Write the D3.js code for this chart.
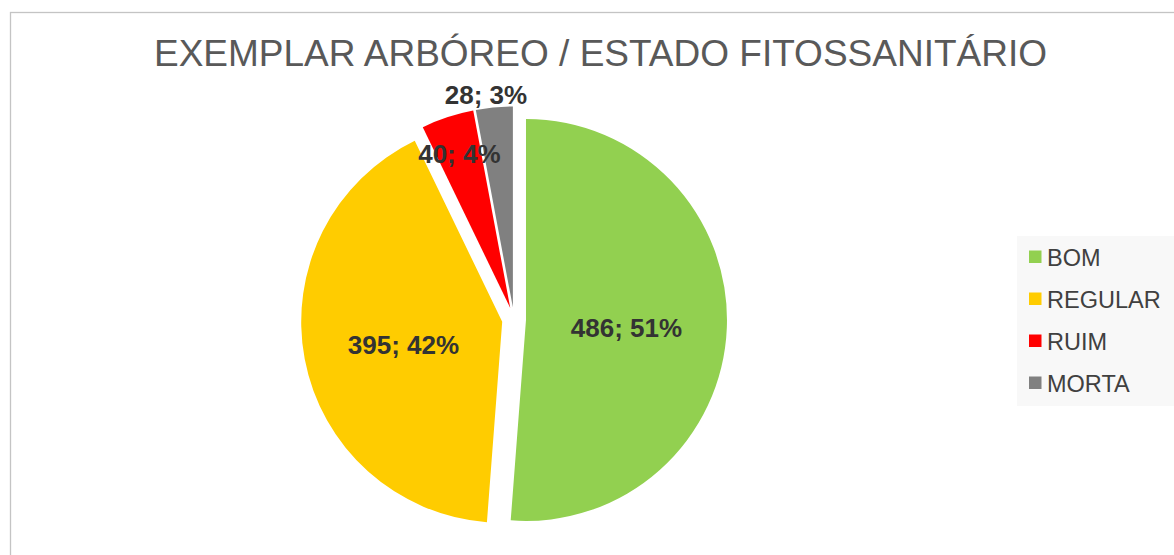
<!DOCTYPE html>
<html>
<head>
<meta charset="utf-8">
<script src="https://cdn.jsdelivr.net/npm/d3@7"></script>
<style>
  body { margin: 0; background: #fff; }
  svg { display: block; font-family: "Liberation Sans", Arial, sans-serif; }
</style>
</head>
<body>
<div id="graph"></div>
<script>
// chart data
const categories = ["BOM", "REGULAR", "RUIM", "MORTA"];
const counts = [486, 395, 40, 28];
const percentLabels = ["51%", "42%", "4%", "3%"];
const colors = ["#92d050", "#ffcc00", "#ff0000", "#808080"];
const title = "EXEMPLAR ARBÓREO / ESTADO FITOSSANITÁRIO";

// label placement (best fit like excel): fraction of radius, plus a small nudge
const labelRadius = [0.5, 0.5, 0.81, 1.07];
const labelNudge = [[0, 4], [0, 4], [0, 0], [-7, 1]];

let width = 1174,
  height = 555;

let svg = d3
  .select("#graph")
  .append("svg")
  .attr("width", width)
  .attr("height", height);

// chart frame, runs off the right and bottom edges
svg
  .append("rect")
  .attr("x", 10.5)
  .attr("y", 12.5)
  .attr("width", 1300)
  .attr("height", 700)
  .attr("fill", "#fff")
  .attr("stroke", "#c4c4c4")
  .attr("stroke-width", 1.3);

// title
svg
  .append("text")
  .attr("x", 600.5)
  .attr("y", 66)
  .attr("text-anchor", "middle")
  .attr("fill", "#595959")
  .style("font-size", "37px")
  .text(title);

// pie setup
let cx = 514,
  cy = 319.5,
  radius = 201,
  explode = 12;

let pie = d3.pie().sort(null).value((d) => d)(counts);
let arc = d3.arc().innerRadius(0).outerRadius(radius);

let g = svg.append("g").attr("transform", `translate(${cx},${cy})`);

function offset(d, dist) {
  let mid = (d.startAngle + d.endAngle) / 2;
  return [Math.sin(mid) * dist, -Math.cos(mid) * dist];
}

// slices, each pulled out along its middle angle
g.selectAll("path.slice")
  .data(pie)
  .join("path")
  .attr("class", "slice")
  .attr("d", arc)
  .attr("fill", (d, i) => colors[i])
  .attr("transform", (d) => {
    let o = offset(d, explode);
    return `translate(${o[0]},${o[1]})`;
  });

// data labels "value; percent", on top of every slice
g.selectAll("text.label")
  .data(pie)
  .join("text")
  .attr("class", "label")
  .attr("transform", (d, i) => {
    let a = offset(d, explode);
    let o = offset(d, radius * labelRadius[i]);
    return `translate(${a[0] + o[0] + labelNudge[i][0]},${a[1] + o[1] + labelNudge[i][1]})`;
  })
  .attr("text-anchor", "middle")
  .attr("dy", "0.35em")
  .attr("fill", "#333333")
  .style("font-size", "26px")
  .style("font-weight", "bold")
  .text((d, i) => counts[i] + "; " + percentLabels[i]);

// legend
let legend = svg.append("g").attr("transform", "translate(1017,236)");
legend
  .append("rect")
  .attr("width", 200)
  .attr("height", 170)
  .attr("fill", "#f8f8f8");

let legendY = d3
  .scalePoint()
  .domain(categories)
  .range([21, 147]);

let items = legend
  .selectAll("g.item")
  .data(categories)
  .join("g")
  .attr("class", "item")
  .attr("transform", (d) => `translate(0,${legendY(d)})`);

items
  .append("rect")
  .attr("x", 12)
  .attr("y", -6.5)
  .attr("width", 12.5)
  .attr("height", 12.5)
  .attr("fill", (d, i) => colors[i]);

items
  .append("text")
  .attr("x", 30)
  .attr("y", 8.5)
  .attr("fill", "#404040")
  .style("font-size", "23.5px")
  .text((d) => d);
</script>
</body>
</html>
